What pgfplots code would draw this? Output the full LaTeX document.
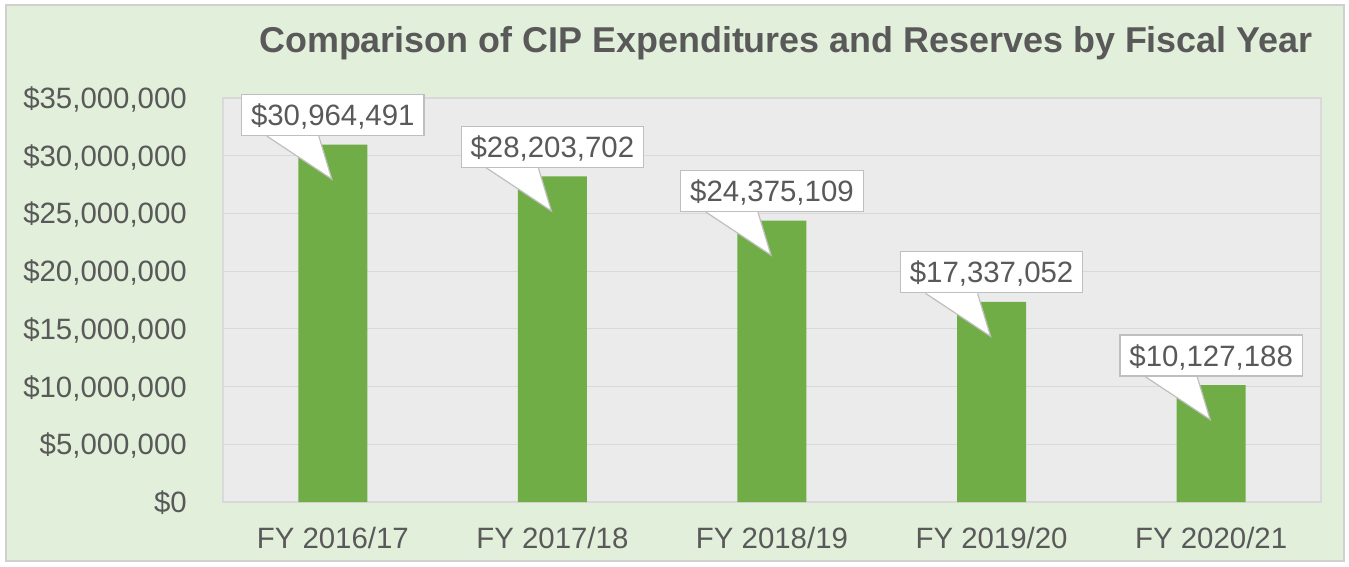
\documentclass[border=0pt]{standalone}
\usepackage{fontspec}
\setmainfont{Liberation Sans}
\usepackage{pgfplots}
\pgfplotsset{compat=1.18}
\definecolor{bggreen}{HTML}{E2EFDA}
\definecolor{plotbg}{HTML}{EBEBEB}
\definecolor{bargreen}{HTML}{70AD47}
\definecolor{txt}{HTML}{595959}
\definecolor{gridc}{HTML}{D9D9D9}
\definecolor{callb}{HTML}{BFBFBF}
\definecolor{panelb}{HTML}{D0D0D0}
\begin{document}
\begin{tikzpicture}
\path[use as bounding box, fill=white] (0,0) rectangle (1349bp,-567bp);
\filldraw[fill=bggreen, draw=panelb, line width=2bp] (6bp,-5bp) rectangle (1344bp,-561bp);
\node[anchor=base, text=txt, font=\fontsize{35.9bp}{40bp}\selectfont\bfseries] at (786bp,-52bp) {Comparison of CIP Expenditures and Reserves by Fiscal Year};
\begin{axis}[
  at={(223bp,-502bp)}, anchor=south west,
  width=1098bp, height=404bp, scale only axis,
  xmin=-0.5, xmax=4.5, ymin=0, ymax=35000000,
  enlargelimits=false,
  ybar, bar width=69bp,
  axis background/.style={fill=plotbg},
  axis line style={draw=gridc, line width=1.2bp},
  ymajorgrids, grid style={draw=gridc, line width=1.2bp},
  major tick length=0pt,
  xtick={0,1,2,3,4},
  xticklabels={FY 2016/17, FY 2017/18, FY 2018/19, FY 2019/20, FY 2020/21},
  ytick={0,5000000,10000000,15000000,20000000,25000000,30000000,35000000},
  yticklabels={\$0,{\$5,000,000},{\$10,000,000},{\$15,000,000},{\$20,000,000},{\$25,000,000},{\$30,000,000},{\$35,000,000}},
  scaled y ticks=false,
  yticklabel style={text=txt, font=\fontsize{29.4bp}{34bp}\selectfont, anchor=east, inner sep=0pt, xshift=-36bp, text height=21bp, text depth=0pt},
  xticklabel style={text=txt, font=\fontsize{29.4bp}{34bp}\selectfont, anchor=north, inner sep=0pt, yshift=-25bp, text height=21bp, text depth=0pt},
  clip=false,
  point meta=explicit symbolic,
  nodes near coords,
  nodes near coords style={anchor=south, yshift=8.5bp, fill=white, draw=callb, line width=1.2bp, text=txt,
    font=\fontsize{29.4bp}{34bp}\selectfont, inner xsep=9.5bp, inner ysep=0pt, minimum height=41bp,
    text height=21bp, text depth=0pt,
    append after command={\pgfextra{%
      \let\cn\tikzlastnode
      \fill[white, draw=none] ([xshift=-66bp,yshift=0.8bp]\cn.south) -- ([xshift=-14bp,yshift=0.8bp]\cn.south) -- ([xshift=-1bp,yshift=-43bp]\cn.south) -- cycle;
      \draw[callb, fill=none, line width=1.2bp] ([xshift=-66bp]\cn.south) -- ([xshift=-1bp,yshift=-43bp]\cn.south) -- ([xshift=-14bp]\cn.south);
    }}},
]
\addplot[fill=bargreen, draw=none] coordinates {
  (0,30964491) [{\$30,964,491}]
  (1,28203702) [{\$28,203,702}]
  (2,24375109) [{\$24,375,109}]
  (3,17337052) [{\$17,337,052}]
  (4,10127188) [{\$10,127,188}]
};
\end{axis}
\end{tikzpicture}
\end{document}
